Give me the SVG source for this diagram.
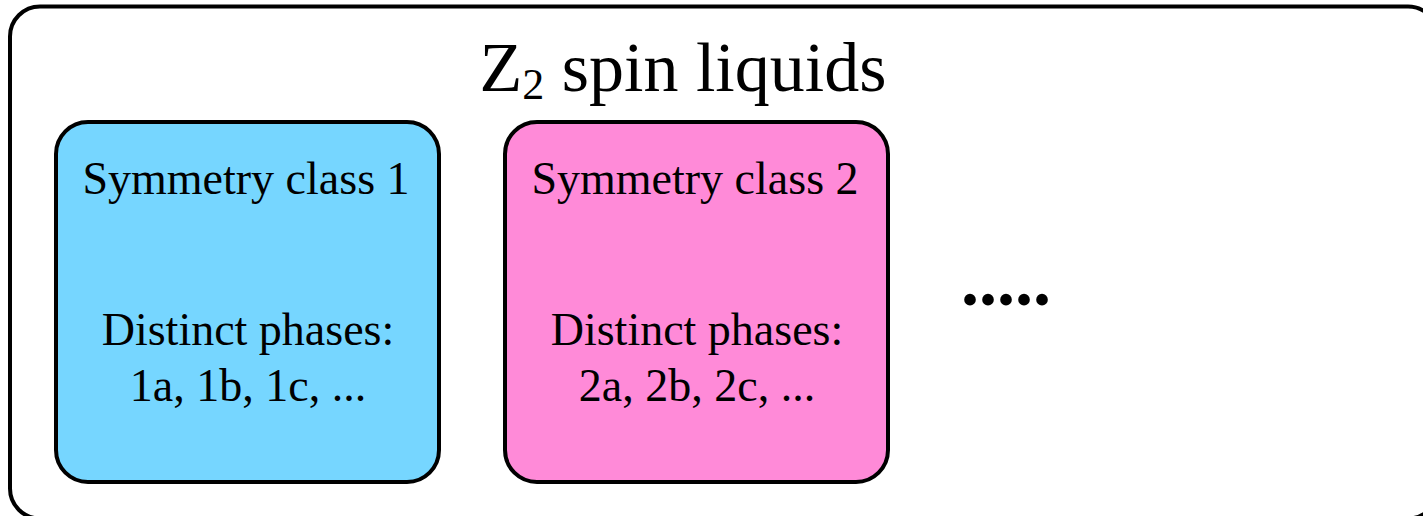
<svg xmlns="http://www.w3.org/2000/svg" width="1423" height="516" viewBox="0 0 1423 516">
<style>
.box{stroke:#000;stroke-width:4}
.t{font-family:"Liberation Serif","Times New Roman",serif;fill:#000;text-anchor:middle}
.lbl{font-size:46px}
</style>
<rect x="0" y="0" width="1423" height="516" fill="#fff"/>
<g id="outer">
<rect class="box" x="10" y="6.5" width="1428" height="512" rx="30" ry="30" fill="#fff"/>
<text class="t" x="683" y="91" font-size="70">Z<tspan font-size="44" dy="8">2</tspan><tspan dy="-8"> spin liquids</tspan></text>
</g>
<g id="class1">
<rect class="box" x="56" y="122" width="383" height="360" rx="32" ry="32" fill="#76D6FF"/>
<text class="t lbl" x="246" y="194">Symmetry class 1</text>
<text class="t lbl" x="248" y="345">Distinct phases:</text>
<text class="t lbl" x="248" y="401">1a, 1b, 1c, ...</text>
</g>
<g id="class2">
<rect class="box" x="505" y="122" width="383" height="360" rx="32" ry="32" fill="#FF8AD8"/>
<text class="t lbl" x="695" y="194">Symmetry class 2</text>
<text class="t lbl" x="697" y="345">Distinct phases:</text>
<text class="t lbl" x="697" y="401">2a, 2b, 2c, ...</text>
</g>
<g id="more">
<text class="t" x="1006" y="305" font-size="72" font-weight="bold">.....</text>
</g>
<g id="connectors"></g>
</svg>
